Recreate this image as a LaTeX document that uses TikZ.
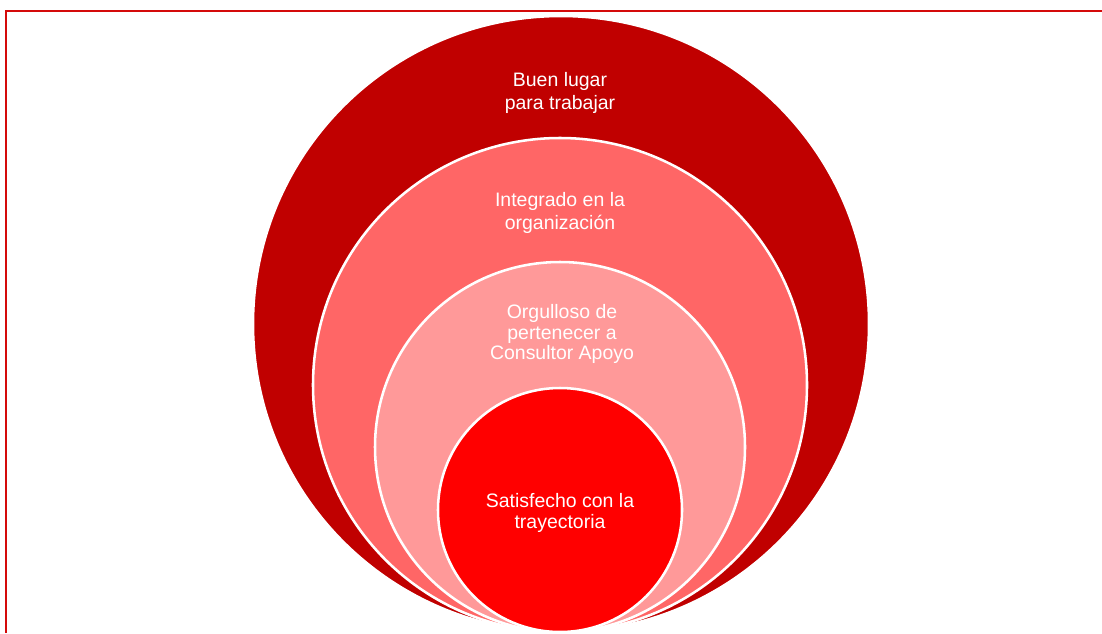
\documentclass[tikz,border=0pt]{standalone}
\usepackage{fontspec}
\setmainfont{Liberation Sans}
\usepackage{xcolor}
\usepackage{tikz}

\definecolor{framered}{RGB}{212,10,10}
\definecolor{ringA}{RGB}{192,0,0}
\definecolor{ringB}{RGB}{255,102,102}
\definecolor{ringC}{RGB}{255,153,153}
\definecolor{ringD}{RGB}{255,0,0}

\tikzset{
  ring/.style={draw=white, line width=1.9pt},
  biglbl/.style={text=white, align=center, inner sep=0pt,
    font=\fontsize{14.6}{17.3}\selectfont},
  smalllbl/.style={text=white, align=center, inner sep=0pt,
    font=\fontsize{14.6}{15.3}\selectfont},
}

\begin{document}
\begin{tikzpicture}[x=0.75pt, y=-0.75pt]
  \useasboundingbox (0,0) rectangle (1102,633);
  % frame, only top and left edges
  \draw[framered, line width=1.8pt] (6,633) -- (6,11) -- (1102,11);
  % nested circles, all touching at the bottom
  \filldraw[ring, fill=ringA] (561,324) circle (308);
  \filldraw[ring, fill=ringB] (560,385) circle (247);
  \filldraw[ring, fill=ringC] (560,447) circle (185);
  \filldraw[ring, fill=ringD] (560,510) circle (122);
  % labels
  \node[biglbl] (buen) at (560,93) {Buen lugar\\para trabajar};
  \node[biglbl] (integrado) at (560,213) {Integrado en la\\organización};
  \node[smalllbl] (orgulloso) at (562,334) {Orgulloso de\\pertenecer a\\Consultor Apoyo};
  \node[smalllbl] (satisfecho) at (560,513) {Satisfecho con la\\trayectoria};
\end{tikzpicture}
\end{document}
